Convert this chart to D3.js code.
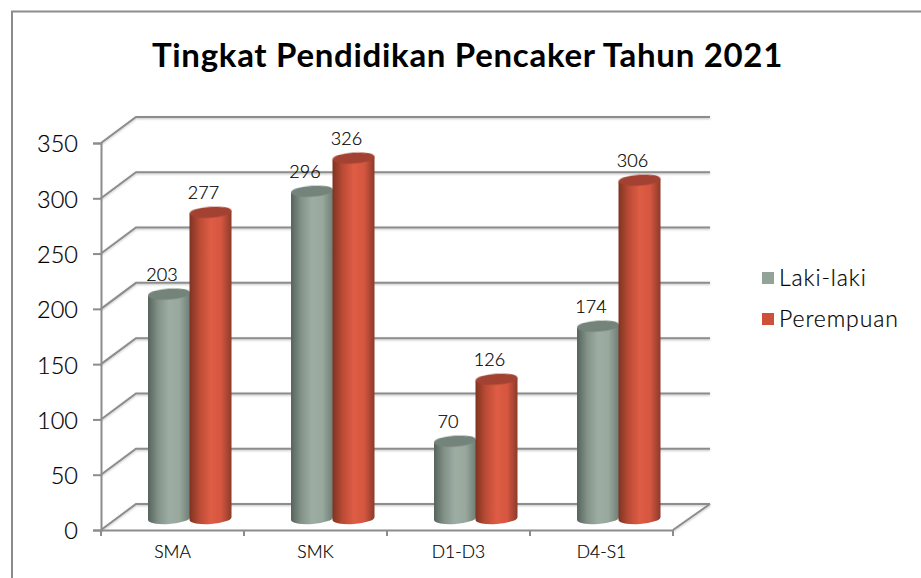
<!DOCTYPE html>
<html>
<head>
<meta charset="utf-8">
<script src="https://cdnjs.cloudflare.com/ajax/libs/d3/7.8.5/d3.min.js"></script>
<style>
  html, body { margin: 0; padding: 0; background: #fff; }
  text { font-family: Lato, "Open Sans", sans-serif; font-weight: 300; fill: #000; stroke: #000; stroke-width: 0.2px; }
</style>
</head>
<body>
<script>
var w = 921, h = 578;

var categories = ["SMA", "SMK", "D1-D3", "D4-S1"];
var seriesNames = ["Laki-laki", "Perempuan"];
var lakiLaki = [203, 296, 70, 174];
var perempuan = [277, 326, 126, 306];
var yTicks = [0, 50, 100, 150, 200, 250, 300, 350];

var grayStops = ["#56645c", "#84938a", "#9dada3", "#98a89d", "#6f7e75"];
var redStops = ["#7f3323", "#bc4c36", "#de5c44", "#d65741", "#8c3a29"];
var grayTop = "#74847a", redTop = "#a34331";
var axisColor = "#8c8c8c";

var svg = d3.select("body").append("svg")
  .attr("width", w)
  .attr("height", h)
  .style("display", "block");

// frame, open on the right and bottom
svg.append("path")
  .attr("d", "M12,578V11.5H921")
  .attr("fill", "none")
  .attr("stroke", axisColor)
  .attr("stroke-width", 2);

var x = d3.scaleBand().domain(categories).range([101, 673]);
var y = d3.scaleLinear().domain([0, 350]).range([530, 143]);

// depth of the 3d box, and how far into it the bars stand
var depthX = 35, depthY = -26;
var barShiftY = -11.5;

var defs = svg.append("defs");
function gradient(id, stops) {
  var g = defs.append("linearGradient").attr("id", id);
  stops.forEach(function(c, i) {
    g.append("stop")
      .attr("offset", i / (stops.length - 1))
      .attr("stop-color", c);
  });
}
gradient("grayBar", grayStops);
gradient("redBar", redStops);

var lineBlur = defs.append("filter").attr("id", "lineShadow")
  .attr("x", "-5%").attr("y", "-100%").attr("width", "110%").attr("height", "300%");
lineBlur.append("feDropShadow")
  .attr("dx", 0).attr("dy", 1).attr("stdDeviation", 0.8)
  .attr("flood-color", "#000").attr("flood-opacity", 0.25);

defs.append("filter").attr("id", "soft")
  .append("feGaussianBlur").attr("stdDeviation", 0.4);

// gridlines: back wall plus the slanted side wall
var grid = svg.append("g").attr("filter", "url(#lineShadow)");
grid.selectAll(".grid")
  .data(yTicks)
  .enter()
  .append("path")
  .attr("class", "grid")
  .attr("fill", "none")
  .attr("stroke", axisColor)
  .attr("stroke-width", 2)
  .attr("d", function(d) {
    var y0 = y(d);
    return "M101," + y0 + "L" + (101 + depthX) + "," + (y0 + depthY) + "H710";
  });
// floor edge on the right
grid.append("path")
  .attr("fill", "none")
  .attr("stroke", axisColor)
  .attr("stroke-width", 2)
  .attr("d", "M673," + y(0) + "L710," + (y(0) + depthY));

var yAxis = d3.axisLeft(y).tickValues(yTicks).tickSize(8).tickPadding(15);
var yG = svg.append("g")
  .attr("transform", "translate(101,0)")
  .call(yAxis);
var xAxis = d3.axisBottom(x).tickValues(categories).tickSize(0).tickPadding(16);
var xG = svg.append("g")
  .attr("transform", "translate(0," + y(0) + ")")
  .call(xAxis);
xG.selectAll(".extra")
  .data(d3.range(categories.length + 1))
  .enter()
  .append("line")
  .attr("x1", function(d) { return 101 + d * x.step(); })
  .attr("x2", function(d) { return 101 + d * x.step(); })
  .attr("y1", 0)
  .attr("y2", 6)
  .attr("stroke", axisColor)
  .attr("stroke-width", 2);

yG.selectAll("path, line").attr("stroke", axisColor).attr("stroke-width", 2);
xG.selectAll("path").attr("stroke", axisColor).attr("stroke-width", 2);
yG.selectAll("text").style("font-size", "23.5px").attr("dy", "0.38em");
xG.selectAll("text").style("font-size", "17.5px");

// cylinders
var barWidth = 42;
var ry = 5.5, tilt = -4;
var barOffset = [47, 88.5];   // left edge inside each band

function drawSeries(values, s, grad, topColor) {
  var g = svg.append("g").attr("class", "series" + s);
  var bars = g.selectAll("g")
    .data(values)
    .enter()
    .append("g");

  bars.append("path")
    .attr("fill", "url(#" + grad + ")")
    .attr("filter", "url(#soft)")
    .attr("d", function(d, i) {
      var l = x(categories[i]) + barOffset[s];
      var r = l + barWidth;
      var top = y(d) + barShiftY;
      var bottom = y(0) + barShiftY;
      var dy = Math.tan(tilt * Math.PI / 180) * barWidth / 2;
      return "M" + l + "," + (top - dy) +
        "L" + l + "," + (bottom - dy) +
        "A" + (barWidth / 2) + "," + ry + " " + tilt + " 0 0 " + r + "," + (bottom + dy) +
        "L" + r + "," + (top + dy) + "Z";
    });

  bars.append("ellipse")
    .attr("fill", topColor)
    .attr("filter", "url(#soft)")
    .attr("rx", barWidth / 2)
    .attr("ry", ry)
    .attr("transform", function(d, i) {
      var cx = x(categories[i]) + barOffset[s] + barWidth / 2;
      return "translate(" + cx + "," + (y(d) + barShiftY) + ") rotate(" + tilt + ")";
    });

  bars.append("text")
    .attr("text-anchor", "middle")
    .style("font-size", "18px")
    .attr("x", function(d, i) {
      return x(categories[i]) + barOffset[s] + barWidth / 2 - 7;
    })
    .attr("y", function(d) { return y(d) + barShiftY - 13; })
    .text(function(d) { return d; });
}
drawSeries(lakiLaki, 0, "grayBar", grayTop);
drawSeries(perempuan, 1, "redBar", redTop);

// title
svg.append("text")
  .attr("x", 467.5)
  .attr("y", 67)
  .attr("text-anchor", "middle")
  .style("font-size", "33px")
  .style("font-weight", "700")
  .style("letter-spacing", "0.7px")
  .style("stroke", "none")
  .text("Tingkat Pendidikan Pencaker Tahun 2021");

// legend
var legendColors = ["#92a398", "#ce5039"];
var legend = svg.selectAll(".legend")
  .data(seriesNames)
  .enter()
  .append("g")
  .attr("class", "legend")
  .attr("transform", function(d, i) { return "translate(762," + (272 + i * 41) + ")"; });
legend.append("rect")
  .attr("width", 12)
  .attr("height", 12)
  .attr("fill", function(d, i) { return legendColors[i]; });
legend.append("text")
  .attr("x", 17)
  .attr("y", 13.5)
  .style("font-size", "23px")
  .style("letter-spacing", "0.9px")
  .text(function(d) { return d; });
</script>
</body>
</html>
